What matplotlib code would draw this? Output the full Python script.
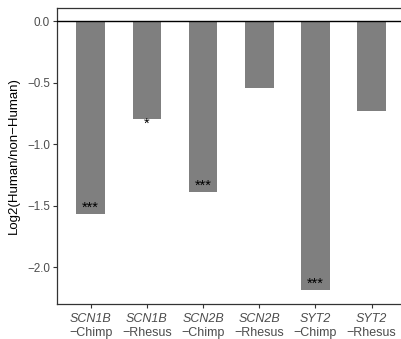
import matplotlib.pyplot as plt

plt.rcParams['font.family'] = ['Liberation Sans', 'DejaVu Sans']

genes = ['SCN1B', 'SCN1B', 'SCN2B', 'SCN2B', 'SYT2', 'SYT2']
species = ['Chimp', 'Rhesus', 'Chimp', 'Rhesus', 'Chimp', 'Rhesus']
log2fc = [-1.57, -0.795, -1.393, -0.542, -2.19, -0.729]
signif = ['***', '*', '***', '', '***', '']

fig = plt.figure(figsize=(4.02, 3.39), dpi=100)
ax = fig.add_axes([0.1418, 0.1032, 0.8582, 0.8732])

x = list(range(1, len(log2fc) + 1))
ax.bar(x, log2fc, width=0.51, color='#7f7f7f', zorder=2)
ax.axhline(0, color='black', lw=1.0, zorder=3)

for xi, v, s in zip(x, log2fc, signif):
    if not s:
        continue
    # three stars sit inside the bar, a single one just under it
    dy = 2.0 if s == '***' else -6.5
    ax.annotate(s, xy=(xi, v), xytext=(0, dy), textcoords='offset points',
                ha='center', va='baseline', fontsize=10.5, color='black', zorder=4)

ax.set_xlim(0.4, 6.54)
ax.set_ylim(-2.30, 0.106)
ax.set_yticks([0.0, -0.5, -1.0, -1.5, -2.0])
ax.set_yticklabels(['0.0', '\u22120.5', '\u22121.0', '\u22121.5', '\u22122.0'])
ax.set_xticks(x)
ax.set_xticklabels([''] * len(x))
for xi, g, sp in zip(x, genes, species):
    ax.annotate(g, xy=(xi, 0), xycoords=('data', 'axes fraction'), xytext=(0, -6.3),
                textcoords='offset points', ha='center', va='top', fontsize=9,
                style='italic', color='#4d4d4d')
    ax.annotate('\u2212' + sp, xy=(xi, 0), xycoords=('data', 'axes fraction'), xytext=(0, -16.5),
                textcoords='offset points', ha='center', va='top', fontsize=9,
                color='#4d4d4d')

ax.tick_params(axis='both', colors='#333333', labelcolor='#4d4d4d', labelsize=8.4,
               length=3, width=0.8)
ax.tick_params(axis='y', pad=2)
ax.set_ylabel('Log2(Human/non\u2212Human)', fontsize=9.5, color='black', labelpad=5)

for side in ['left', 'bottom', 'top']:
    ax.spines[side].set_color('#333333')
    ax.spines[side].set_linewidth(0.9)
ax.spines['right'].set_visible(False)

fig.savefig('out.png', dpi=100)
